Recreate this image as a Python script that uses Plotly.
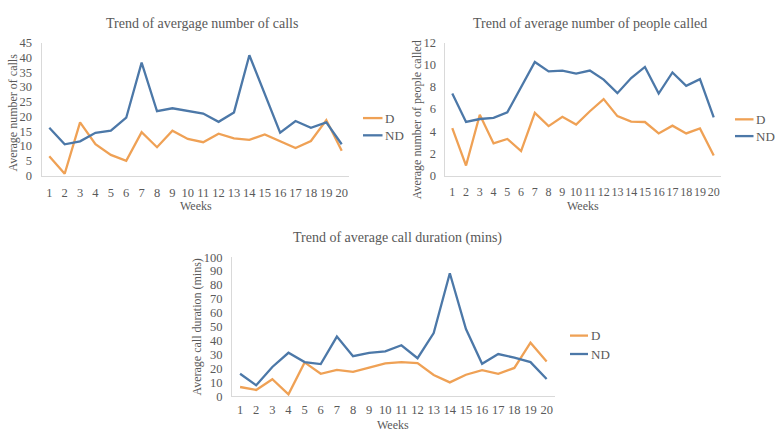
import plotly.graph_objects as go

# Weekly averages
weeks = list(range(1, 21))

calls_d = [6.5, 0.6, 18.0, 10.6, 7.0, 5.0, 14.7, 9.6, 15.2, 12.4,
           11.3, 14.2, 12.6, 12.1, 13.9, 11.6, 9.3, 11.7, 18.8, 8.4]
calls_nd = [16.2, 10.6, 11.6, 14.5, 15.2, 19.6, 38.3, 21.8, 22.8, 21.9,
            21.0, 18.2, 21.4, 40.8, 27.6, 14.5, 18.5, 16.2, 18.0, 10.6]

people_d = [4.28, 0.9, 5.48, 2.9, 3.3, 2.2, 5.65, 4.46, 5.3, 4.6,
            5.8, 6.9, 5.36, 4.87, 4.83, 3.8, 4.5, 3.8, 4.25, 1.8]
people_nd = [7.4, 4.83, 5.1, 5.2, 5.7, 8.0, 10.25, 9.4, 9.47, 9.2,
             9.47, 8.65, 7.43, 8.8, 9.8, 7.4, 9.3, 8.1, 8.7, 5.24]

dur_d = [6.7, 4.6, 12.3, 1.4, 24.4, 16.2, 19.0, 17.6, 20.6, 23.7,
         24.6, 23.9, 15.3, 10.0, 15.5, 18.8, 16.2, 20.4, 38.5, 25.1]
dur_nd = [16.2, 7.9, 21.1, 31.3, 24.6, 23.2, 42.9, 28.8, 31.3, 32.3,
          36.7, 27.4, 45.5, 88.4, 48.3, 23.4, 30.4, 27.8, 24.6, 12.5]

ORANGE = '#EFA155'
BLUE = '#4C78A8'
GREY_TXT = '#595959'
FONT = 'Liberation Serif'
W, H = 779, 444

def px(x):
    return x / W

def py(y):
    return 1 - y / H

fig = go.Figure()

panels = [
    # (axis suffix, d values, nd values, xdomain, ydomain, yrange, dtick, tick size, x label gap)
    ('', calls_d, calls_nd, [px(41.6), px(349.4)], [py(174), py(37)], [0, 45], 5, 12.5, 5),
    ('2', people_d, people_nd, [px(445.4), px(720.6)], [py(174), py(36.7)], [0, 12], 2, 12, 5),
    ('3', dur_d, dur_nd, [px(232), px(554.7)], [py(402), py(258.3)], [0, 100], 10, 12.5, 2),
]

for suf, dv, ndv, xd, yd, yr, dt, fs, gap in panels:
    for vals, col, nm in [(dv, ORANGE, 'D'), (ndv, BLUE, 'ND')]:
        fig.add_trace(go.Scatter(
            x=weeks, y=vals, mode='lines', name=nm,
            line=dict(color=col, width=2.3),
            xaxis='x' + suf, yaxis='y' + suf, showlegend=False
        ))
    fig.layout['xaxis' + suf] = dict(
        domain=xd, anchor='y' + suf, range=[0.5, 20.5], tickmode='linear',
        tick0=1, dtick=1, showgrid=False, zeroline=False, showline=True,
        linecolor='#D9D9D9', linewidth=1, ticks='', ticklabelstandoff=gap,
        tickangle=0, tickfont=dict(family=FONT, size=fs, color=GREY_TXT))
    fig.layout['yaxis' + suf] = dict(
        domain=yd, anchor='x' + suf, range=yr, dtick=dt, showgrid=False,
        zeroline=False, showline=True, linecolor='#D9D9D9', linewidth=1,
        ticks='', ticklabelstandoff=6,
        tickfont=dict(family=FONT, size=12.5, color=GREY_TXT))

texts = [
    ('Trend of avergage number of calls', 201.5, 17, 14, 0),
    ('Trend of average number of people called', 590, 17, 14, 0),
    ('Trend of average call duration (mins)', 397, 239, 14, 0),
    ('Weeks', 196, 205, 12, 0),
    ('Weeks', 583, 205, 12, 0),
    ('Weeks', 393, 432, 12, 0),
    ('Average number of calls', 13, 109, 12, -90),
    ('Average number of people called', 417, 116, 12, -90),
    ('Average call duration (mins)', 197, 330, 12, -90),
]
for t, x, y, s, a in texts:
    fig.add_annotation(text=t, x=px(x), y=py(y), xref='paper', yref='paper',
                       showarrow=False, textangle=a, xanchor='center', yanchor='middle',
                       font=dict(family=FONT, size=s, color=GREY_TXT))

# legends (one per panel)
legends = [(363, 382.5, 114.7, 132.5), (735, 753.5, 116, 133.3), (570, 588, 339.3, 358.3)]
for x0, x1, yd_, ynd in legends:
    for yy, col, nm in [(yd_, ORANGE, 'D'), (ynd, BLUE, 'ND')]:
        fig.add_shape(type='line', xref='paper', yref='paper',
                      x0=px(x0), x1=px(x1), y0=py(yy), y1=py(yy),
                      line=dict(color=col, width=2.3))
        fig.add_annotation(text=nm, x=px(x1 + 0.5), y=py(yy), xref='paper', yref='paper',
                           showarrow=False, xanchor='left', yanchor='middle',
                           font=dict(family=FONT, size=13, color=GREY_TXT))

fig.update_layout(
    width=W, height=H, margin=dict(l=0, r=0, t=0, b=0),
    plot_bgcolor='white', paper_bgcolor='white', showlegend=False
)

# drop the default page margin so the figure sits at the window's corner
fig.write_html("out.html", config={'displayModeBar': False},
               post_script="document.body.style.margin='0';document.body.style.overflow='hidden';")
